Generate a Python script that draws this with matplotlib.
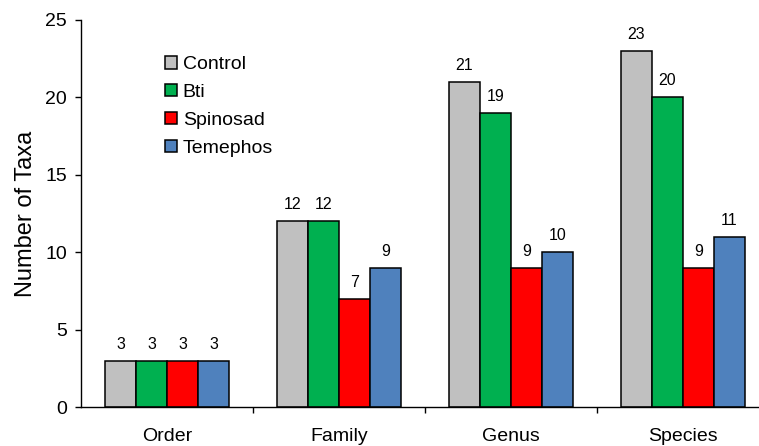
import matplotlib
matplotlib.use("Agg")
import matplotlib.pyplot as plt
import numpy as np
from matplotlib.patches import Patch

plt.rcParams['font.family'] = ['Liberation Sans', 'DejaVu Sans']

categories = ["Order", "Family", "Genus", "Species"]
series_names = ["Control", "Bti", "Spinosad", "Temephos"]
control = [3, 12, 21, 23]
bti = [3, 12, 19, 20]
spinosad = [3, 7, 9, 9]
temephos = [3, 9, 10, 11]
colors = ["#c0c0c0", "#00b050", "#ff0000", "#4f81bd"]

fig = plt.figure(figsize=(7.59, 4.46), dpi=100)
ax = fig.add_axes([81/759, 39/446, 688/759, 387/446])

data = [control, bti, spinosad, temephos]
x = np.arange(len(categories))
w = 0.18
for i, (vals, c, name) in enumerate(zip(data, colors, series_names)):
    pos = x + (i - 1.5) * w
    ax.bar(pos, vals, width=w, color=c, edgecolor="black", linewidth=1.1, label=name)
    for p, v in zip(pos, vals):
        ax.annotate(str(v), (p, v), xytext=(0, 8.6), textcoords="offset points",
                    ha="center", va="baseline", fontsize=11.5)

ax.set_xlim(-0.5, len(categories) - 0.5)
ax.set_ylim(0, 25)
ax.set_yticks(range(0, 26, 5))
ax.tick_params(axis="y", labelsize=14, length=4.5, width=1, direction="out", pad=5.5)
ax.set_xticks(x[:-1] + 0.5)
ax.set_xticklabels([])
ax.tick_params(axis="x", length=4.5, width=1, direction="out")
ax.set_xticks(x, minor=True)
ax.set_xticklabels(categories, minor=True, fontsize=14)
ax.tick_params(axis="x", which="minor", length=0, pad=15)
for s in ["top", "right"]:
    ax.spines[s].set_visible(False)
ax.spines["left"].set_linewidth(1)
ax.spines["bottom"].set_linewidth(1)
ax.set_ylabel("Number of Taxa", fontsize=17, labelpad=6)

handles = [Patch(facecolor=c, edgecolor="black", linewidth=1.1) for c in colors]
ax.legend(handles, series_names, loc="upper left", bbox_to_anchor=(0.122, 0.907),
          frameon=False, fontsize=14, handlelength=0.62, handleheight=0.62,
          handletextpad=0.3, labelspacing=0.55, borderaxespad=0, borderpad=0)

fig.savefig("out.png", dpi=100)
